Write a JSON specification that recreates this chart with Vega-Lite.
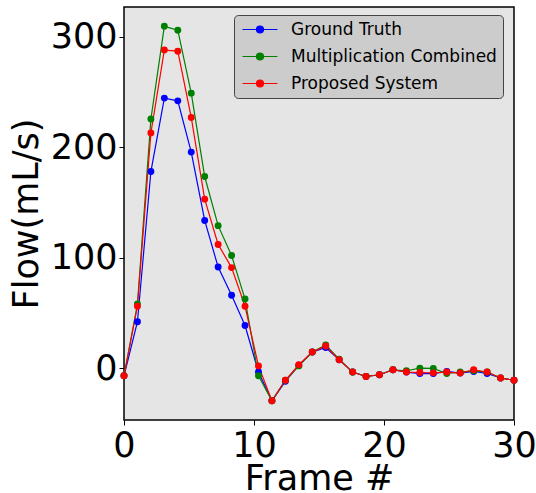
{
  "$schema": "https://vega.github.io/schema/vega-lite/v6.json",
  "width": 390,
  "height": 413,
  "autosize": {"type": "none"},
  "padding": {"left": 124, "top": 7, "right": 22, "bottom": 73},
  "background": "white",
  "config": {
    "font": "DejaVu Sans",
    "view": {"fill": "#e5e5e5", "stroke": "black", "strokeWidth": 1.5},
    "axis": {
      "grid": false,
      "domain": false,
      "tickColor": "black",
      "tickSize": 5,
      "tickWidth": 1,
      "labelFont": "DejaVu Sans",
      "labelFontSize": 35,
      "labelColor": "black",
      "labelPadding": 2,
      "labelFlush": false,
      "labelOverlap": false,
      "titleFont": "DejaVu Sans",
      "titleFontSize": 35,
      "titleFontWeight": "normal",
      "titleColor": "black"
    }
  },
  "data": {
    "values": [
      {"frame": 0, "flow": -7, "series": "Ground Truth"},
      {"frame": 1.034, "flow": 42, "series": "Ground Truth"},
      {"frame": 2.069, "flow": 178, "series": "Ground Truth"},
      {"frame": 3.103, "flow": 244.5, "series": "Ground Truth"},
      {"frame": 4.138, "flow": 242, "series": "Ground Truth"},
      {"frame": 5.172, "flow": 195.6, "series": "Ground Truth"},
      {"frame": 6.207, "flow": 133.7, "series": "Ground Truth"},
      {"frame": 7.241, "flow": 91.5, "series": "Ground Truth"},
      {"frame": 8.276, "flow": 66, "series": "Ground Truth"},
      {"frame": 9.31, "flow": 38.6, "series": "Ground Truth"},
      {"frame": 10.345, "flow": -3.6, "series": "Ground Truth"},
      {"frame": 11.379, "flow": -29.6, "series": "Ground Truth"},
      {"frame": 12.414, "flow": -12, "series": "Ground Truth"},
      {"frame": 13.448, "flow": 2.5, "series": "Ground Truth"},
      {"frame": 14.483, "flow": 14.5, "series": "Ground Truth"},
      {"frame": 15.517, "flow": 18.7, "series": "Ground Truth"},
      {"frame": 16.552, "flow": 7.5, "series": "Ground Truth"},
      {"frame": 17.586, "flow": -3.6, "series": "Ground Truth"},
      {"frame": 18.621, "flow": -7.6, "series": "Ground Truth"},
      {"frame": 19.655, "flow": -6, "series": "Ground Truth"},
      {"frame": 20.69, "flow": -1.5, "series": "Ground Truth"},
      {"frame": 21.724, "flow": -3.6, "series": "Ground Truth"},
      {"frame": 22.759, "flow": -5, "series": "Ground Truth"},
      {"frame": 23.793, "flow": -5, "series": "Ground Truth"},
      {"frame": 24.828, "flow": -3, "series": "Ground Truth"},
      {"frame": 25.862, "flow": -4.5, "series": "Ground Truth"},
      {"frame": 26.897, "flow": -3, "series": "Ground Truth"},
      {"frame": 27.931, "flow": -4.9, "series": "Ground Truth"},
      {"frame": 28.966, "flow": -9, "series": "Ground Truth"},
      {"frame": 30, "flow": -11, "series": "Ground Truth"},
      {"frame": 0, "flow": -7, "series": "Multiplication Combined"},
      {"frame": 1.034, "flow": 58, "series": "Multiplication Combined"},
      {"frame": 2.069, "flow": 225.5, "series": "Multiplication Combined"},
      {"frame": 3.103, "flow": 309.5, "series": "Multiplication Combined"},
      {"frame": 4.138, "flow": 306, "series": "Multiplication Combined"},
      {"frame": 5.172, "flow": 249, "series": "Multiplication Combined"},
      {"frame": 6.207, "flow": 173.5, "series": "Multiplication Combined"},
      {"frame": 7.241, "flow": 129, "series": "Multiplication Combined"},
      {"frame": 8.276, "flow": 102, "series": "Multiplication Combined"},
      {"frame": 9.31, "flow": 62.5, "series": "Multiplication Combined"},
      {"frame": 10.345, "flow": -7, "series": "Multiplication Combined"},
      {"frame": 11.379, "flow": -29.6, "series": "Multiplication Combined"},
      {"frame": 12.414, "flow": -11, "series": "Multiplication Combined"},
      {"frame": 13.448, "flow": 2, "series": "Multiplication Combined"},
      {"frame": 14.483, "flow": 14.5, "series": "Multiplication Combined"},
      {"frame": 15.517, "flow": 21, "series": "Multiplication Combined"},
      {"frame": 16.552, "flow": 8, "series": "Multiplication Combined"},
      {"frame": 17.586, "flow": -3.6, "series": "Multiplication Combined"},
      {"frame": 18.621, "flow": -7.6, "series": "Multiplication Combined"},
      {"frame": 19.655, "flow": -6, "series": "Multiplication Combined"},
      {"frame": 20.69, "flow": -1.5, "series": "Multiplication Combined"},
      {"frame": 21.724, "flow": -2.4, "series": "Multiplication Combined"},
      {"frame": 22.759, "flow": 0, "series": "Multiplication Combined"},
      {"frame": 23.793, "flow": -0.3, "series": "Multiplication Combined"},
      {"frame": 24.828, "flow": -4.9, "series": "Multiplication Combined"},
      {"frame": 25.862, "flow": -3.6, "series": "Multiplication Combined"},
      {"frame": 26.897, "flow": -2.5, "series": "Multiplication Combined"},
      {"frame": 27.931, "flow": -3.6, "series": "Multiplication Combined"},
      {"frame": 28.966, "flow": -9, "series": "Multiplication Combined"},
      {"frame": 30, "flow": -11, "series": "Multiplication Combined"},
      {"frame": 0, "flow": -7, "series": "Proposed System"},
      {"frame": 1.034, "flow": 56, "series": "Proposed System"},
      {"frame": 2.069, "flow": 213, "series": "Proposed System"},
      {"frame": 3.103, "flow": 288, "series": "Proposed System"},
      {"frame": 4.138, "flow": 287, "series": "Proposed System"},
      {"frame": 5.172, "flow": 227, "series": "Proposed System"},
      {"frame": 6.207, "flow": 153, "series": "Proposed System"},
      {"frame": 7.241, "flow": 112, "series": "Proposed System"},
      {"frame": 8.276, "flow": 91, "series": "Proposed System"},
      {"frame": 9.31, "flow": 56, "series": "Proposed System"},
      {"frame": 10.345, "flow": 2, "series": "Proposed System"},
      {"frame": 11.379, "flow": -29.6, "series": "Proposed System"},
      {"frame": 12.414, "flow": -11, "series": "Proposed System"},
      {"frame": 13.448, "flow": 3, "series": "Proposed System"},
      {"frame": 14.483, "flow": 14.5, "series": "Proposed System"},
      {"frame": 15.517, "flow": 20, "series": "Proposed System"},
      {"frame": 16.552, "flow": 7.5, "series": "Proposed System"},
      {"frame": 17.586, "flow": -3.6, "series": "Proposed System"},
      {"frame": 18.621, "flow": -7.6, "series": "Proposed System"},
      {"frame": 19.655, "flow": -6, "series": "Proposed System"},
      {"frame": 20.69, "flow": -1.5, "series": "Proposed System"},
      {"frame": 21.724, "flow": -3.6, "series": "Proposed System"},
      {"frame": 22.759, "flow": -4, "series": "Proposed System"},
      {"frame": 23.793, "flow": -4.3, "series": "Proposed System"},
      {"frame": 24.828, "flow": -3.6, "series": "Proposed System"},
      {"frame": 25.862, "flow": -4.5, "series": "Proposed System"},
      {"frame": 26.897, "flow": -1.5, "series": "Proposed System"},
      {"frame": 27.931, "flow": -3.6, "series": "Proposed System"},
      {"frame": 28.966, "flow": -9, "series": "Proposed System"},
      {"frame": 30, "flow": -11, "series": "Proposed System"}
    ]
  },
  "mark": {"type": "line", "strokeWidth": 1.2, "point": {"filled": true, "size": 48, "opacity": 1}},
  "encoding": {
    "x": {
      "field": "frame",
      "type": "quantitative",
      "scale": {"domain": [0, 30], "nice": false, "zero": false},
      "axis": {"values": [0, 10, 20, 30], "title": "Frame #", "titlePadding": -2, "labelPadding": 3}
    },
    "y": {
      "field": "flow",
      "type": "quantitative",
      "scale": {"domain": [-47, 327], "nice": false, "zero": false},
      "axis": {"values": [0, 100, 200, 300], "title": "Flow(mL/s)", "titlePadding": 6}
    },
    "color": {
      "field": "series",
      "type": "nominal",
      "scale": {
        "domain": ["Ground Truth", "Multiplication Combined", "Proposed System"],
        "range": ["#0000ff", "#008000", "#ff0000"]
      },
      "legend": {
        "title": null,
        "orient": "none",
        "legendX": 110,
        "legendY": 8,
        "fillColor": "#cccccc",
        "strokeColor": "#444444",
        "cornerRadius": 4,
        "padding": 6,
        "labelFont": "DejaVu Sans",
        "labelFontSize": 17,
        "labelColor": "black",
        "labelLimit": 0,
        "labelOffset": 34,
        "symbolType": "M-1,0H4.83M1.33,0A0.583,0.583 0 1,0 2.5,0A0.583,0.583 0 1,0 1.33,0",
        "symbolSize": 144,
        "symbolStrokeWidth": 1.2,
        "rowPadding": 9,
        "encode": {
          "symbols": {"update": {"fill": {"scale": "color", "field": "value"}, "opacity": {"value": 1}}}
        }
      }
    }
  }
}
